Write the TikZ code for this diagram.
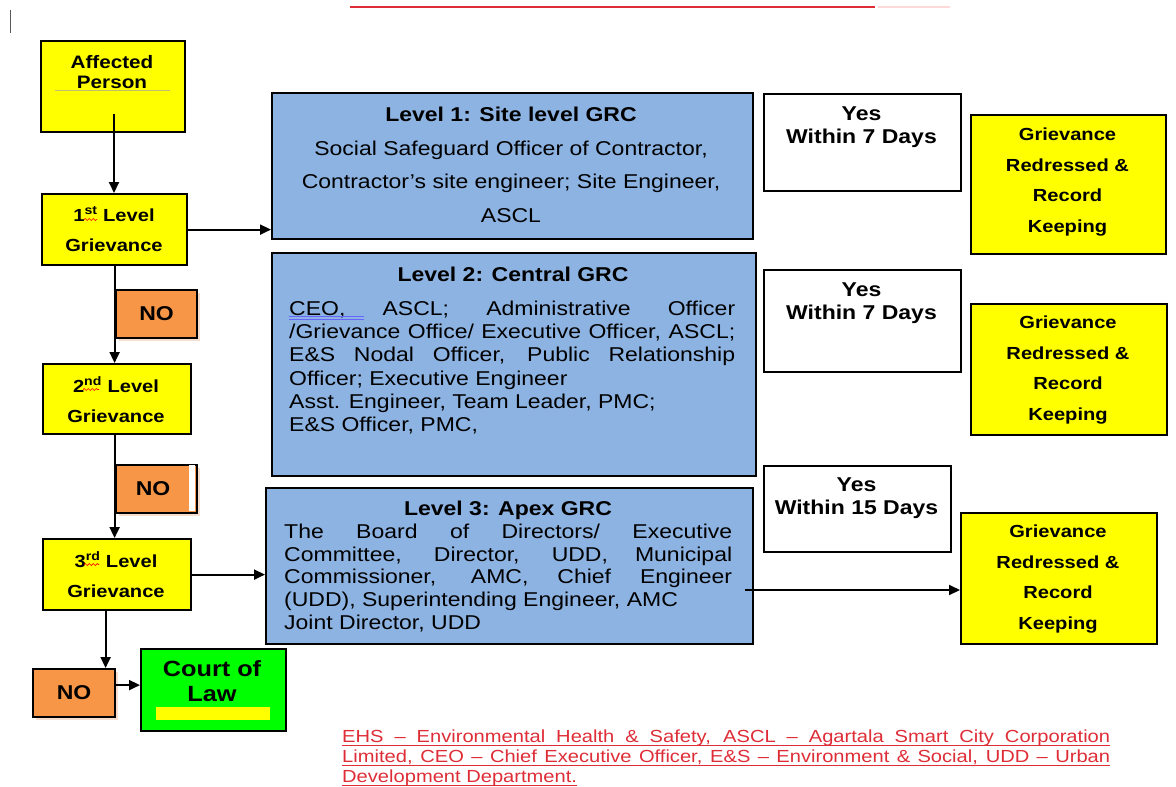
\documentclass[tikz,border=0pt]{standalone}
\usepackage{fontspec}
\setmainfont[FakeStretch=1.15]{Liberation Sans}
\usetikzlibrary{arrows.meta,decorations.pathmorphing,shadows}
\definecolor{ylw}{RGB}{255,255,0}
\definecolor{blu}{RGB}{141,179,226}
\definecolor{org}{RGB}{247,150,70}
\definecolor{grn}{RGB}{0,255,0}
\definecolor{shd}{RGB}{246,222,206}
\definecolor{fnred}{RGB}{222,45,55}
\definecolor{olv}{RGB}{190,190,110}
\newcommand\ttlf{\fontsize{20}{23}\selectfont\bfseries}
\newcommand\bodyf{\fontsize{20}{23.2}\selectfont}
\newcommand\lblf{\fontsize{17.5}{30.5}\selectfont\bfseries}
\newcommand\fnu[1]{\setbox0=\hbox{#1}\rlap{\rule[-3.2pt]{\wd0}{1.1pt}}\box0}
\begin{document}
\begin{tikzpicture}[x=1pt,y=-1pt,
  bx/.style 2 args={draw=black,line width=2.2pt,anchor=north west,inner sep=0pt,
    minimum width=#1pt,minimum height=#2pt},
  ybox/.style={fill=ylw},
  bbox/.style={fill=blu},
  wbox/.style={fill=white},
  nobox/.style={fill=org,font=\fontsize{20}{23}\selectfont\bfseries,
    drop shadow={shadow xshift=3pt,shadow yshift=-3pt,fill=shd,opacity=1}},
  txt/.style={anchor=north,inner sep=0pt,align=center},
  arr/.style={line width=2pt,-{Triangle[length=11pt,width=10pt]}},
  wave/.style={draw=red,line width=0.7pt,decorate,
    decoration={snake,amplitude=1pt,segment length=4pt}}]
\useasboundingbox (0,0) rectangle (1176,787);
% top decorations
\draw[gray!70!black,line width=1pt] (10,10) -- (10,33);
\draw[fnred,line width=1.5pt] (350,7) -- (875,7);
\draw[red!15,line width=1.5pt] (878,7) -- (950,7);

% left column boxes
\node[bx={144}{91},ybox] (ap) at (40,40) {};
\node[bx={145}{71},ybox] (g1) at (41,193) {};
\node[bx={148}{70},ybox] (g2) at (42,363) {};
\node[bx={148}{71},ybox] (g3) at (42,538) {};
\node[bx={81}{48},nobox] (no1) at (115,289) {NO};
\node[bx={81}{48},nobox] (no2) at (115,464) {NO\hspace*{7pt}};
\fill[white] (188.5,465.3) rectangle (194.8,510.7);
\node[bx={82}{48},nobox] (no3) at (32,668) {NO};
\node[bx={145}{82},fill=grn] (court) at (140,648) {};
\fill[ylw] (156,707) rectangle (270,720);

% middle boxes
\node[bx={481}{146},bbox] (l1) at (271,92) {};
\node[bx={484}{223},bbox] (l2) at (271,252) {};
\node[bx={487}{156},bbox] (l3) at (265,487) {};

% right boxes
\node[bx={197}{97},wbox] (y1) at (763,93) {};
\node[bx={197}{102},wbox] (y2) at (763,269) {};
\node[bx={187}{86},wbox] (y3) at (763,465) {};
\node[bx={195}{139},ybox] (r1) at (970,114) {};
\node[bx={196}{131},ybox] (r2) at (970,303) {};
\node[bx={196}{131},ybox] (r3) at (960,512) {};

% texts left
\node[txt,font=\fontsize{18}{20}\selectfont\bfseries] (apt) at (112,55.5) {Affected\\Person};
\draw[olv,line width=0.8pt] (55,90) -- (170,90);
\node[txt,font=\lblf] (g1t) at (114,206.7) {1\textsuperscript{st} Level\\Grievance};
\node[txt,font=\lblf] (g2t) at (116,376.7) {2\textsuperscript{nd} Level\\Grievance};
\node[txt,font=\lblf] (g3t) at (116,551.7) {3\textsuperscript{rd} Level\\Grievance};
\draw[wave] (84,219.5) -- (97,219.5);
\draw[wave] (83,389.5) -- (99,389.5);
\draw[wave] (84,564.5) -- (99,564.5);
\node[txt,font=\fontsize{22}{25}\selectfont\bfseries] (courtt) at (212,660) {Court of\\Law};

% texts middle
\node[txt,font=\ttlf] (l1h) at (511,106.8) {Level 1: Site level GRC};
\node[txt,font=\fontsize{20}{33.5}\selectfont] (l1b) at (511,140.8)
  {Social Safeguard Officer of Contractor,\\Contractor’s site engineer; Site Engineer,\\ASCL};
\node[txt,font=\ttlf] (l2h) at (513,266.8) {Level 2: Central GRC};
\node[anchor=north west,inner sep=0pt,align=left,font=\bodyf] (l2b) at (289,300.8)
  {\makebox[446pt][s]{CEO, ASCL; Administrative Officer}\\
   \makebox[446pt][s]{/Grievance Office/ Executive Officer, ASCL;}\\
   \makebox[446pt][s]{E\&S Nodal Officer, Public Relationship}\\
   Officer; Executive Engineer\\
   Asst. Engineer, Team Leader, PMC;\\
   E\&S Officer, PMC,};
\draw[blue!60,line width=0.9pt] (289,316.5) -- (364,316.5) (289,319.5) -- (364,319.5);
\node[txt,font=\ttlf] (l3h) at (508,500.8) {Level 3: Apex GRC};
\node[anchor=north west,inner sep=0pt,align=left,font=\fontsize{20}{22.75}\selectfont] (l3b) at (284,523.8)
  {\makebox[448pt][s]{The Board of Directors/ Executive}\\
   \makebox[448pt][s]{Committee, Director, UDD, Municipal}\\
   \makebox[448pt][s]{Commissioner, AMC, Chief Engineer}\\
   (UDD), Superintending Engineer, AMC\\
   Joint Director, UDD};

% texts right
\node[txt,font=\ttlf] (y1t) at (861.5,106.8) {Yes\\Within 7 Days};
\node[txt,font=\ttlf] (y2t) at (861.5,282.8) {Yes\\Within 7 Days};
\node[txt,font=\ttlf] (y3t) at (856.5,477.8) {Yes\\Within 15 Days};
\node[txt,font=\fontsize{17.5}{30.7}\selectfont\bfseries] (r1t) at (1067.5,127.7) {Grievance\\Redressed \&\\Record\\Keeping};
\node[txt,font=\fontsize{17.5}{30.7}\selectfont\bfseries] (r2t) at (1068,315.7) {Grievance\\Redressed \&\\Record\\Keeping};
\node[txt,font=\fontsize{17.5}{30.7}\selectfont\bfseries] (r3t) at (1058,524.7) {Grievance\\Redressed \&\\Record\\Keeping};

% footnote
\node[anchor=north west,inner sep=0pt,align=left,text=fnred,font=\fontsize{17.5}{20}\selectfont] (fn) at (342,729.7)
  {\fnu{\makebox[768pt][s]{EHS – Environmental Health \& Safety, ASCL – Agartala Smart City Corporation}}\\
   \fnu{\makebox[768pt][s]{Limited, CEO – Chief Executive Officer, E\&S – Environment \& Social, UDD – Urban}}\\
   \fnu{Development Department.}};

% connectors
\coordinate (apS) at (114,114);
\draw[arr] (apS) -- (apS |- g1.north);
\draw[arr] (g1.east) -- (g1.east -| l1.west);
\draw[arr] (g1.south) -- (g1.south |- g2.north);
\draw[arr] (g1.south |- g2.south) -- (g1.south |- g3.north);
\draw[arr] (g3.east) -- (g3.east -| l3.west);
\draw[arr] ([xshift=-11.5pt]g3.south) -- ([xshift=-11.5pt]g3.south |- no3.north);
\draw[arr] ([yshift=8pt]no3.east) -- ([yshift=8pt]no3.east -| court.west);
\coordinate (l3out) at (745,590);
\draw[arr] (l3out) -- (l3out -| r3.west);
\end{tikzpicture}
\end{document}
